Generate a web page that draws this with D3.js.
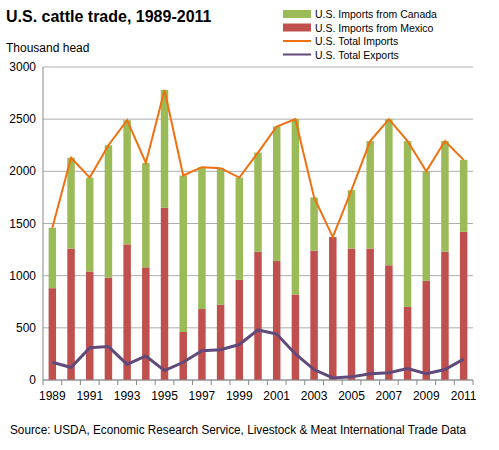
<!DOCTYPE html><html><head><script src="https://cdn.jsdelivr.net/npm/d3@7"></script>
<style>body{margin:0;font-family:Arial,"Liberation Sans",sans-serif}</style></head><body><svg width="499" height="450"></svg>
<script>
const years=d3.range(1989,2012).map(String);
const mexico=[880,1260,1040,980,1300,1080,1650,460,680,720,960,1230,1140,820,1240,1370,1260,1260,1100,700,950,1230,1420];
const total=[1460,2130,1940,2250,2490,2080,2780,1960,2040,2030,1940,2180,2430,2500,1750,1370,1820,2290,2500,2290,2000,2290,2110];
const exportsV=[170,120,310,320,150,230,90,170,280,290,340,480,440,250,100,20,30,60,70,110,60,100,200];
const canada=total.map((t,i)=>t-mexico[i]);
const tickLabels=[0,500,1000,1500,2000,2500,3000];
const svg=d3.select("svg");
const L=43,R=473,T=67,B=380;
const x=d3.scaleBand().domain(years).range([L,R]).paddingInner(0.6).paddingOuter(0.3);
const y=d3.scaleLinear().domain([0,3000]).range([B,T]);
const g=svg.append("g");
tickLabels.forEach(t=>{g.append("line").attr("x1",L).attr("x2",R).attr("y1",y(t)).attr("y2",y(t)).attr("stroke","#999").attr("stroke-width",0.8);
 g.append("text").attr("x",L-7).attr("y",y(t)+4).attr("text-anchor","end").attr("font-size",12).text(t);});
g.append("line").attr("x1",L).attr("x2",L).attr("y1",T).attr("y2",B).attr("stroke","#888");
const step=(R-L)/23;
years.forEach((yr,i)=>{g.append("line").attr("x1",L+i*step).attr("x2",L+i*step).attr("y1",B).attr("y2",B+5).attr("stroke","#888");
 if(i%2==0)g.append("text").attr("x",x(yr)+x.bandwidth()/2).attr("y",B+20).attr("text-anchor","middle").attr("font-size",12).text(yr);});
g.append("line").attr("x1",R).attr("x2",R).attr("y1",B).attr("y2",B+5).attr("stroke","#888");
years.forEach((yr,i)=>{
 g.append("rect").attr("x",x(yr)).attr("width",x.bandwidth()).attr("y",y(mexico[i])).attr("height",B-y(mexico[i])).attr("fill","#c0504d");
 g.append("rect").attr("x",x(yr)).attr("width",x.bandwidth()).attr("y",y(total[i])).attr("height",y(mexico[i])-y(total[i])).attr("fill","#9bbb59");});
const cx=d=>x(d)+x.bandwidth()/2;
g.append("path").datum(total).attr("fill","none").attr("stroke","#f07010").attr("stroke-width",2).attr("d",d3.line().x((d,i)=>cx(years[i])).y(d=>y(d)));
g.append("path").datum(exportsV).attr("fill","none").attr("stroke","#604a7b").attr("stroke-width",3).attr("d",d3.line().x((d,i)=>cx(years[i])).y(d=>y(d)));
svg.append("line").attr("x1",L).attr("x2",R).attr("y1",B).attr("y2",B).attr("stroke","#888");
svg.append("text").attr("x",6).attr("y",22).attr("font-size",16).attr("font-weight","bold").text("U.S. cattle trade, 1989-2011");
svg.append("text").attr("x",6).attr("y",52).attr("font-size",12).text("Thousand head");
const leg=[["U.S. Imports from Canada","#9bbb59","rect"],["U.S. Imports from Mexico","#c0504d","rect"],["U.S. Total Imports","#f07010","line"],["U.S. Total Exports","#604a7b","line"]];
leg.forEach((l,i)=>{const yy=14+i*13.5;
 if(l[2]=="rect")svg.append("rect").attr("x",283).attr("y",yy-4).attr("width",28).attr("height",8).attr("fill",l[1]);
 else svg.append("line").attr("x1",283).attr("x2",311).attr("y1",yy).attr("y2",yy).attr("stroke",l[1]).attr("stroke-width",2);
 svg.append("text").attr("x",315).attr("y",yy+4).attr("font-size",10.5).text(l[0]);});
svg.append("text").attr("x",10).attr("y",434).attr("font-size",12).attr("textLength",456).attr("lengthAdjust","spacingAndGlyphs").text("Source:  USDA, Economic Research Service, Livestock & Meat International Trade Data");
</script></body></html>
